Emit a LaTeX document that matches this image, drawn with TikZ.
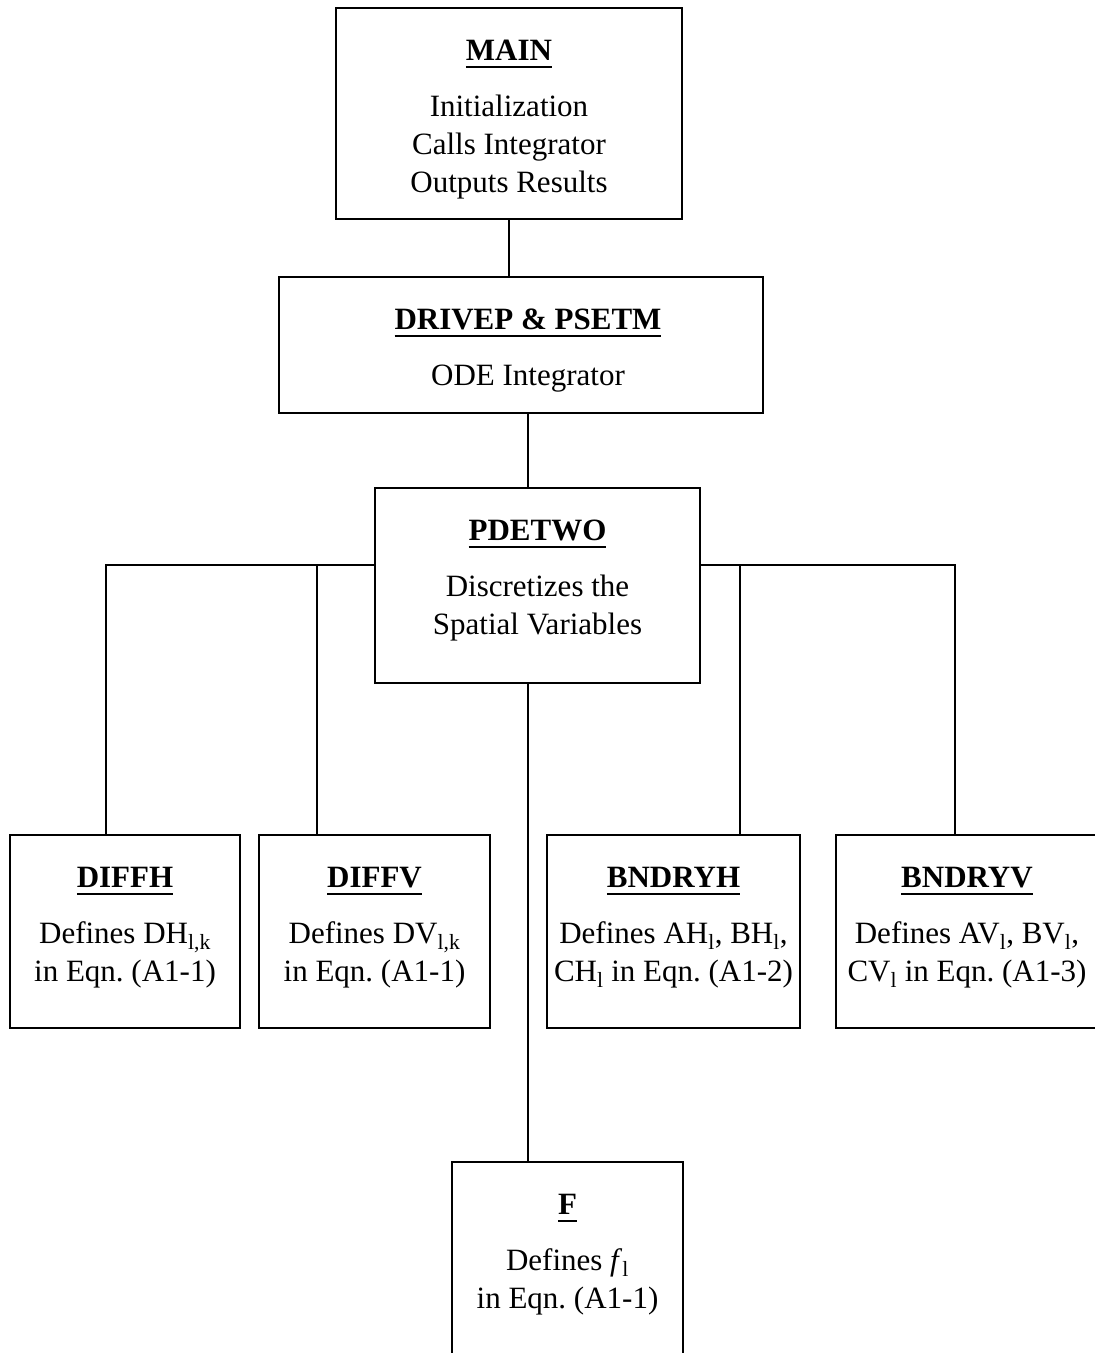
\documentclass[tikz,border=0pt]{standalone}
\usepackage{fontspec}
\setmainfont{Liberation Serif}
% bold heading with a heavy rule underneath
\newcommand{\boxhead}[1]{\setbox0=\hbox{#1}\leavevmode\rlap{\copy0}\lower8pt\hbox{\vrule width\wd0 height 2.5pt depth 0pt}}
% centred lines whose baseline is that of the first line
\newcommand{\bodylines}[1]{\begin{tabular}[t]{@{}c@{}}#1\end{tabular}}
\begin{document}
\begin{tikzpicture}[x=1pt,y=-1pt,
  box/.style={draw, line width=1.4pt, inner sep=0pt},
  conn/.style={line width=1.2pt},
  head/.style={anchor=base, inner sep=0pt, font=\fontsize{31}{38}\selectfont\bfseries},
  body/.style={anchor=base, inner sep=0pt, font=\fontsize{31}{38}\selectfont}]
\useasboundingbox (0,0) rectangle (1095,1353);
\fill[white] (0,0) rectangle (1095,1353);
\clip (0,0) rectangle (1095,1353);

% boxes
\node[box, minimum width=346pt, minimum height=211pt] (main)   at (509,113.5) {};
\node[box, minimum width=484pt, minimum height=136pt] (drive)  at (521,345) {};
\node[box, minimum width=325pt, minimum height=195pt] (pdetwo) at (537.5,585.5) {};
\node[box, minimum width=230pt, minimum height=193pt] (diffh)  at (125,931.5) {};
\node[box, minimum width=231pt, minimum height=193pt] (diffv)  at (374.5,931.5) {};
\node[box, minimum width=253pt, minimum height=193pt] (bndryh) at (673.5,931.5) {};
\node[box, minimum width=264pt, minimum height=193pt] (bndryv) at (968,931.5) {};
\node[box, minimum width=231pt, minimum height=203pt] (f)      at (567.5,1263.5) {};

% texts
\node[head] (mainh)   at (509,60)  {\boxhead{MAIN}};
\node[body] (mainb)   at (509,116) {\bodylines{Initialization\\Calls Integrator\\Outputs Results}};
\node[head] (driveh)  at (528,329) {\boxhead{DRIVEP \& PSETM}};
\node[body] (driveb)  at (528,385) {\bodylines{ODE Integrator}};
\node[head] (pdeh)    at (537.5,540) {\boxhead{PDETWO}};
\node[body] (pdeb)    at (537.5,596) {\bodylines{Discretizes the\\Spatial Variables}};
\node[head] (diffhh)  at (125,887) {\boxhead{DIFFH}};
\node[body] (diffhb)  at (125,943) {\bodylines{Defines DH\textsubscript{l,k}\\in Eqn.\ (A1-1)}};
\node[head] (diffvh)  at (374.5,887) {\boxhead{DIFFV}};
\node[body] (diffvb)  at (374.5,943) {\bodylines{Defines DV\textsubscript{l,k}\\in Eqn.\ (A1-1)}};
\node[head] (bndryhh) at (673.5,887) {\boxhead{BNDRYH}};
\node[body] (bndryhb) at (673.5,943) {\bodylines{Defines AH\textsubscript{l}, BH\textsubscript{l},\\CH\textsubscript{l} in Eqn.\ (A1-2)}};
\node[head] (bndryvh) at (967,887) {\boxhead{BNDRYV}};
\node[body] (bndryvb) at (967,943) {\bodylines{Defines AV\textsubscript{l}, BV\textsubscript{l},\\CV\textsubscript{l} in Eqn.\ (A1-3)}};
\node[head] (fh)      at (567.5,1214) {\boxhead{F}};
\node[body] (fb)      at (567.5,1270) {\bodylines{Defines \textit{f}\textsubscript{l}\\in Eqn.\ (A1-1)}};

% connector attachment points
\coordinate (bus)    at (0,565);
\coordinate (drvout) at ([xshift=7pt]drive.south);
\coordinate (pdeout) at ([xshift=-9.5pt]pdetwo.south);
\coordinate (dhtop)  at ([xshift=-19pt]diffh.north);
\coordinate (dvtop)  at ([xshift=-57.5pt]diffv.north);
\coordinate (bhtop)  at ([xshift=66.5pt]bndryh.north);
\coordinate (bvtop)  at ([xshift=-13pt]bndryv.north);

% connectors
\draw[conn] (main.south) -- (main.south |- drive.north);
\draw[conn] (drvout) -- (drvout |- pdetwo.north);
\draw[conn] (dhtop) |- (pdetwo.west |- bus);
\draw[conn] (dvtop) -- (dvtop |- bus);
\draw[conn] (bvtop) |- (pdetwo.east |- bus);
\draw[conn] (bhtop) -- (bhtop |- bus);
\draw[conn] (pdeout) -- (pdeout |- f.north);
\end{tikzpicture}
\end{document}
